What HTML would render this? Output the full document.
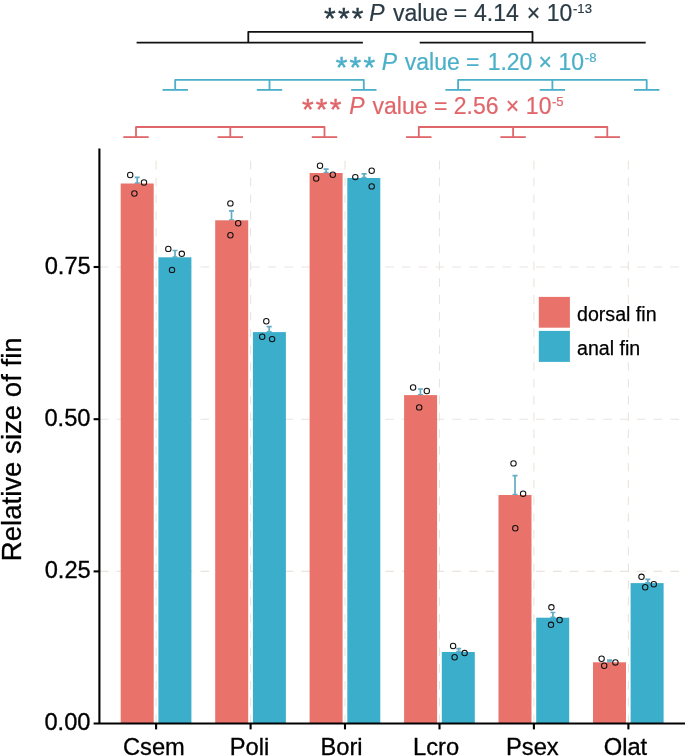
<!DOCTYPE html>
<html lang="en"><head><meta charset="utf-8"><title>Relative size of fin</title>
<style>html,body{margin:0;padding:0;background:#fff}body{width:685px;height:756px;overflow:hidden}svg{display:block;will-change:transform}text{font-family:"Liberation Sans",Arial,sans-serif}</style></head><body>
<svg width="685" height="756" viewBox="0 0 685 756">
<rect width="685" height="756" fill="#fff"/>
<g stroke="#EAE4DD" stroke-width="1.1" stroke-dasharray="8.6 8.18" fill="none">
<path d="M99.9 571.4H685"/>
<path d="M99.9 419.2H685"/>
<path d="M99.9 267.0H685"/>
<path d="M156.1 723.2V160.7"/>
<path d="M250.6 723.2V160.7"/>
<path d="M345.0 723.2V160.7"/>
<path d="M439.5 723.2V160.7"/>
<path d="M533.9 723.2V160.7"/>
<path d="M628.4 723.2V160.7"/>
</g>
<g stroke="#64ABC4" stroke-width="1.7" fill="none">
<path d="M137.2 177.4V183.5M134.7 177.4h5M134.7 183.2h5"/>
<path d="M231.5 210.8V220.3M229.0 210.8h5M229.0 220.0h5"/>
<path d="M326.1 169.2V173.0M323.6 169.2h5M323.6 172.7h5"/>
<path d="M420.4 389.0V395.1M417.9 389.0h5M417.9 394.8h5"/>
<path d="M515.0 475.7V495.0M512.5 475.7h5M512.5 494.7h5"/>
<path d="M609.5 660.1V662.3M607.0 660.1h5M607.0 662.0h5"/>
<path d="M175.0 250.5V257.3M172.5 250.5h5M172.5 257.0h5"/>
<path d="M269.2 326.6V332.1M266.7 326.6h5M266.7 331.8h5"/>
<path d="M364.1 173.9V178.0M361.6 173.9h5M361.6 177.7h5"/>
<path d="M458.7 648.6V652.0M456.2 648.6h5M456.2 651.7h5"/>
<path d="M552.9 612.5V617.7M550.4 612.5h5M550.4 617.4h5"/>
<path d="M647.8 579.4V583.1M645.3 579.4h5M645.3 582.8h5"/>
</g>
<rect x="120.7" y="183.5" width="33" height="540.0" fill="#E9736B"/>
<rect x="158.4" y="257.3" width="33" height="466.2" fill="#3BAECB"/>
<rect x="215.2" y="220.3" width="33" height="503.2" fill="#E9736B"/>
<rect x="252.9" y="332.1" width="33" height="391.4" fill="#3BAECB"/>
<rect x="309.6" y="173.0" width="33" height="550.5" fill="#E9736B"/>
<rect x="347.3" y="178.0" width="33" height="545.5" fill="#3BAECB"/>
<rect x="404.1" y="395.1" width="33" height="328.4" fill="#E9736B"/>
<rect x="441.8" y="652.0" width="33" height="71.5" fill="#3BAECB"/>
<rect x="498.5" y="495.0" width="33" height="228.5" fill="#E9736B"/>
<rect x="536.2" y="617.7" width="33" height="105.8" fill="#3BAECB"/>
<rect x="593.0" y="662.3" width="33" height="61.2" fill="#E9736B"/>
<rect x="630.6" y="583.1" width="33" height="140.4" fill="#3BAECB"/>
<g stroke="#111" stroke-width="1.05" fill="none">
<circle cx="130.2" cy="175.0" r="2.7"/>
<circle cx="144.0" cy="182.5" r="2.7"/>
<circle cx="134.4" cy="193.5" r="2.7"/>
<circle cx="230.4" cy="203.4" r="2.7"/>
<circle cx="238.2" cy="223.2" r="2.7"/>
<circle cx="230.4" cy="235.2" r="2.7"/>
<circle cx="320.0" cy="165.7" r="2.7"/>
<circle cx="332.8" cy="174.7" r="2.7"/>
<circle cx="316.2" cy="178.5" r="2.7"/>
<circle cx="413.1" cy="387.5" r="2.7"/>
<circle cx="426.8" cy="391.0" r="2.7"/>
<circle cx="419.2" cy="407.4" r="2.7"/>
<circle cx="513.5" cy="463.4" r="2.7"/>
<circle cx="523.1" cy="493.8" r="2.7"/>
<circle cx="515.3" cy="528.2" r="2.7"/>
<circle cx="601.6" cy="658.7" r="2.7"/>
<circle cx="615.4" cy="662.4" r="2.7"/>
<circle cx="604.2" cy="665.7" r="2.7"/>
<circle cx="168.3" cy="248.9" r="2.7"/>
<circle cx="181.8" cy="253.8" r="2.7"/>
<circle cx="172.0" cy="269.9" r="2.7"/>
<circle cx="266.3" cy="321.3" r="2.7"/>
<circle cx="262.2" cy="336.8" r="2.7"/>
<circle cx="272.1" cy="339.1" r="2.7"/>
<circle cx="371.7" cy="170.7" r="2.7"/>
<circle cx="355.3" cy="177.1" r="2.7"/>
<circle cx="371.7" cy="186.4" r="2.7"/>
<circle cx="453.1" cy="646.0" r="2.7"/>
<circle cx="464.6" cy="653.1" r="2.7"/>
<circle cx="454.6" cy="657.2" r="2.7"/>
<circle cx="551.4" cy="607.3" r="2.7"/>
<circle cx="559.6" cy="620.0" r="2.7"/>
<circle cx="551.0" cy="624.8" r="2.7"/>
<circle cx="641.5" cy="576.8" r="2.7"/>
<circle cx="653.8" cy="584.2" r="2.7"/>
<circle cx="645.2" cy="587.2" r="2.7"/>
</g>
<g stroke="#000" stroke-width="2.1" fill="none">
<path d="M99.4 148.4V723.5"/>
<path d="M93.6 723.5H685"/>
<path d="M93.6 571.4H99.4"/>
<path d="M93.6 419.2H99.4"/>
<path d="M93.6 267.0H99.4"/>
<path d="M156.1 723.5V729.4"/>
<path d="M250.6 723.5V729.4"/>
<path d="M345.0 723.5V729.4"/>
<path d="M439.5 723.5V729.4"/>
<path d="M533.9 723.5V729.4"/>
<path d="M628.4 723.5V729.4"/>
</g>
<g fill="#000" stroke="#000" stroke-width="0.3">
<text x="44.45" y="730.10" font-size="23.7">0.00</text>
<text x="44.70" y="577.95" font-size="23.7">0.25</text>
<text x="44.45" y="425.80" font-size="23.7">0.50</text>
<text x="44.70" y="273.65" font-size="23.7">0.75</text>
<text x="122.95" y="755.10" font-size="23.7">Csem</text>
<text x="229.80" y="755.10" font-size="23.7">Poli</text>
<text x="320.50" y="755.10" font-size="23.7">Bori</text>
<text x="413.05" y="755.10" font-size="23.7">Lcro</text>
<text x="506.02" y="755.10" font-size="23.7">Psex</text>
<text x="603.72" y="755.10" font-size="23.7">Olat</text>
</g>
<text transform="translate(21.2 561.25) rotate(-90)" font-size="27.6" fill="#000" stroke="#000" stroke-width="0.3">Relative size of fin</text>
<rect x="538.8" y="296.9" width="31.1" height="30.8" fill="#E9736B"/>
<rect x="538.8" y="330.9" width="31.1" height="31" fill="#3BAECB"/>
<text x="577.05" y="321.40" font-size="19.6" fill="#000" stroke="#000" stroke-width="0.25">dorsal fin</text>
<text x="577.05" y="355.00" font-size="19.6" fill="#000" stroke="#000" stroke-width="0.25">anal fin</text>
<g stroke="#111" stroke-width="1.8" fill="none" stroke-linejoin="round">
<path d="M136.6 42.6H362.9M419.7 42.6H645.7M248.3 42.6V31.8H532.5V42.6"/>
</g>
<g stroke="#4AAFC8" stroke-width="1.8" fill="none" stroke-linejoin="round">
<path d="M175.2 89.9V79.9H363.8V89.9M269.5 79.9V89.9"/>
<path d="M458.1 89.9V79.9H646.7V89.9M552.4 79.9V89.9"/>
<path d="M162.5 89.9h25.4"/>
<path d="M256.8 89.9h25.4"/>
<path d="M351.1 89.9h25.4"/>
<path d="M445.4 89.9h25.4"/>
<path d="M539.7 89.9h25.4"/>
<path d="M634.0 89.9h25.4"/>
</g>
<g stroke="#E0666A" stroke-width="1.8" fill="none" stroke-linejoin="round">
<path d="M136.0 137.1V127H324.5V137.1M230.3 127V137.1"/>
<path d="M418.8 137.1V127H607.3V137.1M513.1 127V137.1"/>
<path d="M123.3 137.1h25.4"/>
<path d="M217.6 137.1h25.4"/>
<path d="M311.8 137.1h25.4"/>
<path d="M406.1 137.1h25.4"/>
<path d="M500.4 137.1h25.4"/>
<path d="M594.6 137.1h25.4"/>
</g>
<g fill="#2A3B45" stroke="#2A3B45" stroke-width="0.2"><text x="324.05" y="27.55" font-size="30" letter-spacing="2.2" stroke="#2A3B45" stroke-width="0.4">***</text><text x="369.25" y="20.60" font-size="23" font-style="italic">P</text><text x="392.95" y="20.60" font-size="23">value</text><text x="453.80" y="20.60" font-size="23">=</text><text x="474.00" y="20.60" font-size="23">4.14</text><text x="526.65" y="20.60" font-size="23">×</text><text x="546.65" y="20.60" font-size="23">10</text><text x="573.00" y="13.00" font-size="13.1">-13</text></g>
<g fill="#4AAFC8" stroke="#4AAFC8" stroke-width="0.2"><text x="335.65" y="77.30" font-size="30" letter-spacing="2.2" stroke="#4AAFC8" stroke-width="0.4">***</text><text x="381.65" y="69.80" font-size="23" font-style="italic">P</text><text x="404.75" y="69.80" font-size="23">value</text><text x="466.10" y="69.80" font-size="23">=</text><text x="487.65" y="69.80" font-size="23">1.20</text><text x="538.45" y="69.80" font-size="23">×</text><text x="558.55" y="69.80" font-size="23">10</text><text x="584.80" y="62.20" font-size="13.1">-8</text></g>
<g fill="#E0666A" stroke="#E0666A" stroke-width="0.2"><text x="301.90" y="119.10" font-size="30" letter-spacing="2.2" stroke="#E0666A" stroke-width="0.4">***</text><text x="349.35" y="113.90" font-size="23" font-style="italic">P</text><text x="372.55" y="113.90" font-size="23">value</text><text x="433.90" y="113.90" font-size="23">=</text><text x="453.75" y="113.90" font-size="23">2.56</text><text x="505.85" y="113.90" font-size="23">×</text><text x="525.85" y="113.90" font-size="23">10</text><text x="552.00" y="106.30" font-size="13.1">-5</text></g>
</svg></body></html>
